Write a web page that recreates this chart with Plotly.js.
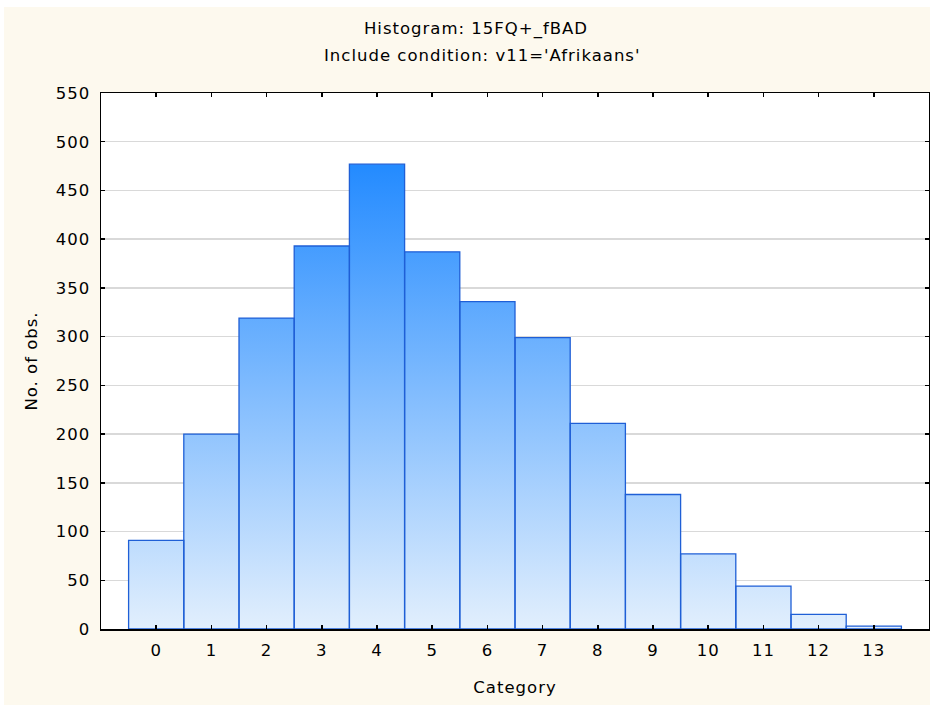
<!DOCTYPE html>
<html>
<head>
<meta charset="utf-8">
<script src="https://cdn.plot.ly/plotly-3.0.1.min.js"></script>
<style>
  html, body { margin: 0; padding: 0; background: #ffffff; }
  #wrap { position: absolute; left: 4px; top: 7px; width: 926px; height: 698px; }
  #chart { width: 926px; height: 698px; }
  svg text { letter-spacing: 1px; }
</style>
</head>
<body>
<div id="wrap"><div id="chart"></div></div>
<script>
const categories = [0, 1, 2, 3, 4, 5, 6, 7, 8, 9, 10, 11, 12, 13];
const counts = [91, 200, 319, 393, 477, 387, 336, 299, 211, 138, 77, 44, 15, 3];
const yTickVals = [0, 50, 100, 150, 200, 250, 300, 350, 400, 450, 500, 550];
const titleText = "Histogram: 15FQ+_fBAD";
const subtitleText = "Include condition: v11='Afrikaans'";
const xTitle = "Category";
const yTitle = "No. of obs.";

// step outline for the gradient fill, derived from the data (bin edges at category ± 0.5)
const edgeX = categories.map(c => c - 0.5).concat([categories[categories.length - 1] + 0.5]);
const edgeY = counts.concat([counts[counts.length - 1]]);

const font = "DejaVu Sans, Verdana, sans-serif";
const fsize = 16.5;

const fillTrace = {
  type: 'scatter',
  x: edgeX,
  y: edgeY,
  mode: 'none',
  line: { shape: 'hv', width: 0 },
  fill: 'tozeroy',
  fillgradient: {
    type: 'vertical',
    start: 0,
    stop: 480,
    colorscale: [[0, 'rgb(226,239,253)'], [1, 'rgb(34,138,255)']]
  },
  hoverinfo: 'skip',
  showlegend: false
};

const barTrace = {
  type: 'bar',
  x: categories,
  y: counts,
  xaxis: 'x2',
  yaxis: 'y',
  width: 1,
  marker: { color: 'rgba(0,0,0,0)', line: { color: '#1f5fd6', width: 1.3 } },
  showlegend: false
};

const layout = {
  width: 926,
  height: 698,
  paper_bgcolor: '#fdf9ee',
  plot_bgcolor: '#ffffff',
  margin: { l: 97, r: 1, t: 86, b: 76 },
  font: { family: font, size: fsize, color: '#000' },
  title: {
    text: titleText,
    font: { family: font, size: fsize, color: '#000' },
    x: 472 / 926, xref: 'container', xanchor: 'center',
    y: 1 - 21 / 698, yref: 'container', yanchor: 'middle'
  },
  annotations: [{
    text: subtitleText,
    xref: 'paper', yref: 'paper',
    x: 0.4603, y: 1, yshift: 38,
    xanchor: 'center', yanchor: 'middle',
    showarrow: false,
    font: { family: font, size: fsize, color: '#000' }
  }],
  xaxis: {
    range: [-1, 14],
    tickvals: categories,
    ticktext: categories.map(String),
    ticks: 'inside', ticklen: 4, tickwidth: 1.5, tickcolor: '#000',
    showline: true, linecolor: '#000', linewidth: 1.5, mirror: 'ticks',
    showgrid: false, zeroline: false,
    ticklabelstandoff: 6,
    title: { text: xTitle, font: { family: font, size: fsize }, standoff: 22 },
    fixedrange: true
  },
  xaxis2: {
    range: [-1, 14],
    overlaying: 'x',
    visible: false,
    fixedrange: true
  },
  yaxis: {
    range: [0, 550],
    tickvals: yTickVals,
    ticks: 'inside', ticklen: 4, tickwidth: 1.5, tickcolor: '#000',
    showline: true, linecolor: '#000', linewidth: 1.5, mirror: 'ticks',
    showgrid: true, gridcolor: '#d9d9d9', gridwidth: 1.5,
    zeroline: false,
    ticklabelstandoff: 6,
    title: { text: yTitle, font: { family: font, size: fsize }, standoff: 14 },
    fixedrange: true
  },
  bargap: 0
};

Plotly.newPlot('chart', [fillTrace, barTrace], layout, { displayModeBar: false, staticPlot: true });
</script>
</body>
</html>
